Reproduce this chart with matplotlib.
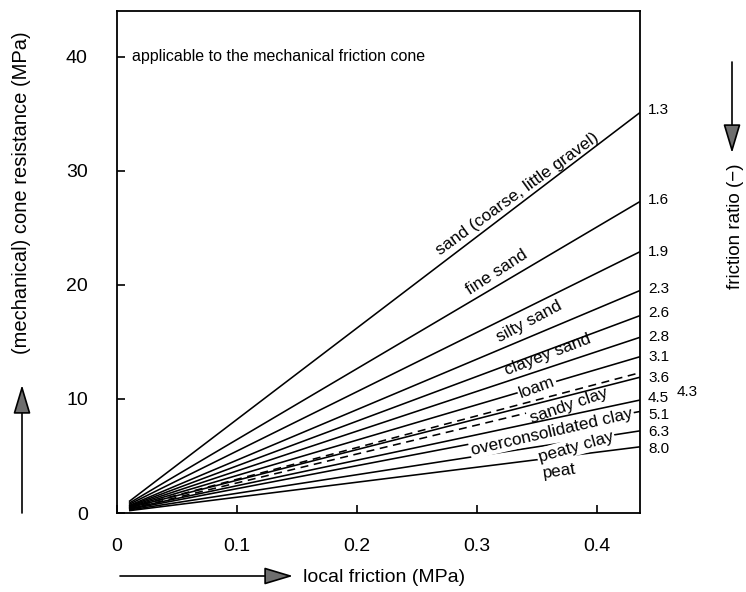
import matplotlib
matplotlib.use("Agg")
import matplotlib.pyplot as plt
from matplotlib.patches import FancyArrowPatch
from matplotlib.transforms import blended_transform_factory

plt.rcParams['font.family'] = ['Liberation Sans', 'DejaVu Sans']

# ---- data ----
ratio_labels = ['1.3', '1.6', '1.9', '2.3', '2.6', '2.8', '3.1', '3.6', '4.5', '5.1', '6.3', '8.0']
fs_start = 0.01
fs_end = 0.436
q_start = [1.0, 0.85, 0.75, 0.65, 0.6, 0.55, 0.5, 0.45, 0.38, 0.32, 0.26, 0.2]
q_end = [35.1, 27.3, 22.9, 19.5, 17.3, 15.4, 13.7, 11.9, 9.9, 8.9, 7.2, 5.8]
ratio_label_q = [35.3, 27.4, 22.9, 19.6, 17.5, 15.4, 13.7, 11.85, 10.05, 8.55, 7.1, 5.65]

dash_fs = [[0.01, 0.4325], [0.01, 0.341]]
dash_q = [[0.45, 12.2], [0.35, 8.75]]
extra_label = '4.3'
extra_label_q = 10.6

soil_names = ['sand (coarse, little gravel)', 'fine sand', 'silty sand', 'clayey sand',
              'loam', 'sandy clay', 'overconsolidated clay', 'peaty clay', 'peat']
soil_fs = [0.334, 0.317, 0.344, 0.359, 0.350, 0.377, 0.3625, 0.3825, 0.369]
soil_q = [28.0, 21.1, 16.75, 13.86, 11.05, 9.39, 7.1, 5.8, 3.7]
soil_rot = [36, 33, 28, 21, 20, 19, 13, 16, 8]
soil_mask = [False, False, False, False, True, False, True, True, False]

x_ticks = [0, 0.1, 0.2, 0.3, 0.4]
x_ticklabels = ['0', '0.1', '0.2', '0.3', '0.4']
y_ticks = [0, 10, 20, 30, 40]
y_ticklabels = ['0', '10', '20', '30', '40']

W, H = 746, 592
fig = plt.figure(figsize=(W / 100, H / 100), dpi=100)
ax = fig.add_axes([117 / W, 1 - 513 / H, (640 - 117) / W, (513 - 11) / H])
ax.set_xlim(0, 0.436)
ax.set_ylim(0, 44.0)

for qs, qe in zip(q_start, q_end):
    ax.plot([fs_start, fs_end], [qs, qe], color='black', lw=1.15, solid_capstyle='butt')
for xs, ys in zip(dash_fs, dash_q):
    ax.plot(xs, ys, color='black', lw=1.15, linestyle=(0, (5, 3.5)))

for name, x, y, r, m in zip(soil_names, soil_fs, soil_q, soil_rot, soil_mask):
    kw = {}
    if m:
        kw['bbox'] = dict(fc='white', ec='none', pad=1.0)
    ax.text(x, y, name, rotation=r, ha='center', va='center', fontsize=12.3,
            rotation_mode='anchor', **kw)

ax.text(0.0125, 40.0, 'applicable to the mechanical friction cone', ha='left', va='center',
        fontsize=11.5)

trans = blended_transform_factory(ax.transAxes, ax.transData)
for lab, q in zip(ratio_labels, ratio_label_q):
    ax.text(1 + 8 / 523, q, lab, transform=trans, ha='left', va='center', fontsize=11,
            clip_on=False)
ax.text(1 + 37 / 523, extra_label_q, extra_label, transform=trans, ha='left', va='center',
        fontsize=11, clip_on=False)

ax.set_xticks(x_ticks)
ax.set_xticklabels(x_ticklabels)
ax.set_yticks(y_ticks)
ax.set_yticklabels(y_ticklabels)
ax.tick_params(direction='in', length=6, width=1.2, labelsize=14)
ax.tick_params(axis='x', pad=18)
ax.tick_params(axis='y', pad=21)
for s in ax.spines.values():
    s.set_linewidth(1.3)

fig.text(22 / W, 1 - 193 / H, '(mechanical) cone resistance (MPa)', rotation=90,
         ha='center', va='center', fontsize=14.5)
fig.text(303 / W, 1 - 577 / H, 'local friction (MPa)', ha='left', va='center', fontsize=14)
fig.text(736 / W, 1 - 226 / H, 'friction ratio (\u2212)', rotation=90, ha='center',
         va='center', fontsize=13.5)


def farrow(x0, y0, x1, y1):
    a = FancyArrowPatch((x0 / W, 1 - y0 / H), (x1 / W, 1 - y1 / H), transform=fig.transFigure,
                        arrowstyle='-|>,head_length=1.5,head_width=0.45', mutation_scale=12,
                        ec='black', fc='#6e6e6e', lw=1.2, shrinkA=0, shrinkB=0)
    fig.add_artist(a)


farrow(22, 513, 22, 385)
farrow(120, 576, 293, 576)
farrow(732, 62, 732, 153)

fig.savefig('out.png', dpi=100)
